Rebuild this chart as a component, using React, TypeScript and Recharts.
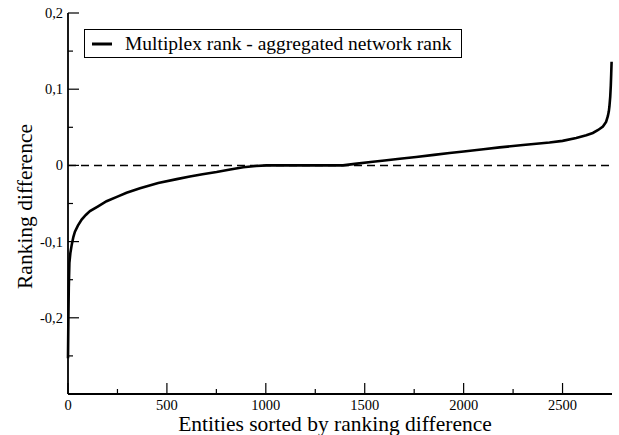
import { LineChart, Line, XAxis, YAxis, ReferenceLine, Legend, Label } from 'recharts';

const entityIndex = [
  0, 2, 4, 7, 12, 19, 27, 35, 50, 69, 90, 111, 150, 195, 250, 296, 364, 456, 550, 616, 680, 751, 820, 886, 950,
  1003, 1390, 1450, 1530, 1600, 1677, 1760, 1850, 1929, 2000, 2100, 2182, 2300, 2434, 2500, 2569, 2620, 2653,
  2680, 2704, 2720, 2729, 2734, 2737, 2741, 2744, 2746, 2748,
];
const rankDiff = [
  -0.253, -0.2, -0.16, -0.128, -0.115, -0.104, -0.094, -0.087, -0.079, -0.071, -0.065, -0.06, -0.054, -0.047,
  -0.041, -0.036, -0.03, -0.023, -0.018, -0.0145, -0.0115, -0.0087, -0.0055, -0.0025, -0.0008,
  0, 0, 0.002, 0.0045, 0.0065, 0.0088, 0.011, 0.0138, 0.0163, 0.0183, 0.0212, 0.0237, 0.0267, 0.03, 0.0322,
  0.036, 0.0395, 0.0426, 0.0465, 0.051, 0.057, 0.0645, 0.071, 0.0776, 0.09, 0.105, 0.12, 0.136,
];
const xTicks = [0, 250, 500, 750, 1000, 1250, 1500, 1750, 2000, 2250, 2500];
const yTicks = [-0.3, -0.25, -0.2, -0.15, -0.1, -0.05, 0, 0.05, 0.1, 0.15, 0.2];
const seriesName = 'Multiplex rank - aggregated network rank';

const data = entityIndex.map((x, i) => ({ x, diff: rankDiff[i] }));

const FONT = 'Liberation Serif, Tinos, DejaVu Serif, serif';

const isMajorX = (v: number) => v % 500 === 0;
const isMajorY = (v: number) => Math.abs(Math.round(v * 10) - v * 10) < 1e-6;
const fmtY = (v: number) => (Math.abs(v) < 1e-9 ? '0' : v.toFixed(1).replace('.', ','));

function BottomTick({ x, y, payload }: any) {
  const v = payload.value;
  const major = isMajorX(v);
  return (
    <g>
      <line x1={x} x2={x} y1={y} y2={y - (major ? 11 : 5)} stroke="#000" strokeWidth={1.2} />
      {major && (
        <text x={x} y={y + 16} textAnchor="middle" style={{ fontFamily: FONT, fontSize: 14.5 }} fill="#000">
          {v}
        </text>
      )}
    </g>
  );
}

function TopTick({ x, y, payload }: any) {
  const major = isMajorX(payload.value);
  return <line x1={x} x2={x} y1={y} y2={y + (major ? 11 : 5)} stroke="#000" strokeWidth={1.2} />;
}

function LeftTick({ x, y, payload }: any) {
  const v = payload.value;
  const major = isMajorY(v);
  return (
    <g>
      <line x1={x} x2={x + (major ? 11 : 5)} y1={y} y2={y} stroke="#000" strokeWidth={1.2} />
      {major && v > -0.29 && (
        <text x={x - 5} y={y + 5} textAnchor="end" style={{ fontFamily: FONT, fontSize: 14.5 }} fill="#000">
          {fmtY(v)}
        </text>
      )}
    </g>
  );
}

function RightTick({ x, y, payload }: any) {
  const major = isMajorY(payload.value);
  return <line x1={x} x2={x - (major ? 11 : 5)} y1={y} y2={y} stroke="#000" strokeWidth={1.2} />;
}

function LegendBox({ payload }: any) {
  const label = payload && payload[0] ? payload[0].value : seriesName;
  return (
    <div
      style={{
        boxSizing: 'border-box',
        width: 378,
        height: 29,
        border: '1px solid #000',
        background: '#fff',
        display: 'flex',
        alignItems: 'center',
        fontFamily: FONT,
        fontSize: 19.5,
        color: '#000',
        whiteSpace: 'nowrap',
      }}
    >
      <svg width={40} height={27} style={{ flex: 'none' }}>
        <line x1={7} x2={27} y1={14} y2={14} stroke="#000" strokeWidth={3} />
      </svg>
      <span style={{ lineHeight: '27px' }}>{label}</span>
    </div>
  );
}

export default function App() {
  return (
    <div
      style={{ position: 'absolute', left: 0, top: 0, width: 619, height: 435, background: '#fff', fontFamily: FONT }}
    >
      <LineChart width={619} height={435} data={data} margin={{ top: 13, right: 7, bottom: 0, left: 0 }}>
        <XAxis
          dataKey="x"
          type="number"
          domain={[0, 2750]}
          ticks={xTicks}
          interval={0}
          height={41}
          tickSize={0}
          tickMargin={0}
          tickLine={false}
          tick={<BottomTick />}
          axisLine={{ stroke: '#000', strokeWidth: 1.8 }}
        >
          <Label
            content={({ viewBox }: any) => (
              <text
                x={viewBox.x + viewBox.width / 2 - 5}
                y={viewBox.y + 37}
                textAnchor="middle"
                style={{ fontFamily: FONT, fontSize: 21.5 }}
                fill="#000"
              >
                Entities sorted by ranking difference
              </text>
            )}
          />
        </XAxis>
        <XAxis
          xAxisId="top"
          orientation="top"
          dataKey="x"
          type="number"
          domain={[0, 2750]}
          ticks={xTicks}
          interval={0}
          height={0}
          tickSize={0}
          tickMargin={0}
          tickLine={false}
          tick={<TopTick />}
          axisLine={{ stroke: '#000', strokeWidth: 1.8 }}
        />
        <YAxis
          type="number"
          domain={[-0.3, 0.2]}
          ticks={yTicks}
          interval={0}
          width={68}
          tickSize={0}
          tickMargin={0}
          tickLine={false}
          tick={<LeftTick />}
          axisLine={{ stroke: '#000', strokeWidth: 1.8 }}
        >
          <Label
            content={({ viewBox }: any) => {
              const cy = viewBox.y + viewBox.height / 2 + 3;
              return (
                <text
                  x={32}
                  y={cy}
                  transform={`rotate(-90 32 ${cy})`}
                  textAnchor="middle"
                  style={{ fontFamily: FONT, fontSize: 21.5 }}
                  fill="#000"
                >
                  Ranking difference
                </text>
              );
            }}
          />
        </YAxis>
        <YAxis
          yAxisId="right"
          orientation="right"
          type="number"
          domain={[-0.3, 0.2]}
          ticks={yTicks}
          interval={0}
          width={0}
          tickSize={0}
          tickMargin={0}
          tickLine={false}
          tick={<RightTick />}
          axisLine={{ stroke: '#000', strokeWidth: 1.8 }}
        />
        <ReferenceLine y={0} stroke="#000" strokeWidth={1.5} strokeDasharray="8 5" />
        <Line
          type="linear"
          dataKey="diff"
          name={seriesName}
          stroke="#000"
          strokeWidth={2.6}
          dot={false}
          isAnimationActive={false}
        />
        <Legend
          layout="vertical"
          align="center"
          verticalAlign="middle"
          content={<LegendBox />}
          wrapperStyle={{ left: 84, top: 29, width: 378, height: 29 }}
        />
      </LineChart>
    </div>
  );
}
